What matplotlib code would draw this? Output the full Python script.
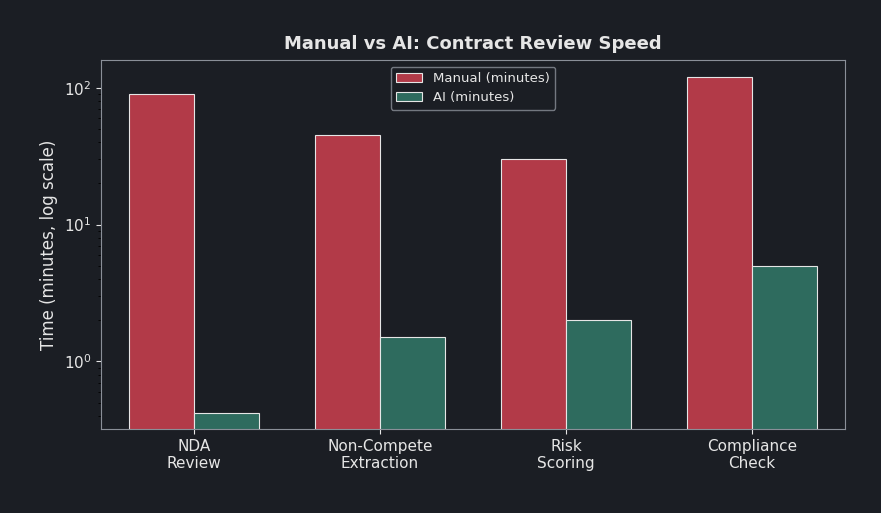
import matplotlib
matplotlib.use("Agg")
import matplotlib.pyplot as plt
import numpy as np

BG = "#1b1e24"
FG = "#e6e6e6"
RED = "#b23a48"
GREEN = "#2e6b5e"

categories = ["NDA\nReview", "Non-Compete\nExtraction", "Risk\nScoring", "Compliance\nCheck"]
manual = [90, 45, 30, 120]
ai = [0.42, 1.5, 2.0, 5.0]

fig = plt.figure(figsize=(8.81, 5.13), dpi=100)
fig.patch.set_facecolor(BG)
ax = fig.add_axes([101 / 881, 1 - 429 / 513, 744 / 881, 369 / 513])
ax.set_facecolor(BG)

x = np.arange(len(categories))
w = 0.35
ax.bar(x - w / 2, manual, w, color=RED, edgecolor=FG, linewidth=0.8, label="Manual (minutes)")
ax.bar(x + w / 2, ai, w, color=GREEN, edgecolor=FG, linewidth=0.8, label="AI (minutes)")
ax.set_yscale("log")
ax.set_ylim(0.32, 160)
ax.set_xlim(-0.5, 3.5)
ax.set_xticks(x)
ax.set_xticklabels(categories, color=FG, fontsize=11)
ax.tick_params(colors=FG, labelsize=11)
ax.set_ylabel("Time (minutes, log scale)", color=FG, fontsize=12)
ax.set_title("Manual vs AI: Contract Review Speed", color=FG, fontsize=13, fontweight="bold", pad=8)
for s in ax.spines.values():
    s.set_color("#8a8f98")
leg = ax.legend(loc="upper center", facecolor=BG, edgecolor="#8a8f98", fontsize=9.5,
                bbox_to_anchor=(0.5, 1.0))
for t in leg.get_texts():
    t.set_color(FG)

fig.savefig("out.png", facecolor=BG)
